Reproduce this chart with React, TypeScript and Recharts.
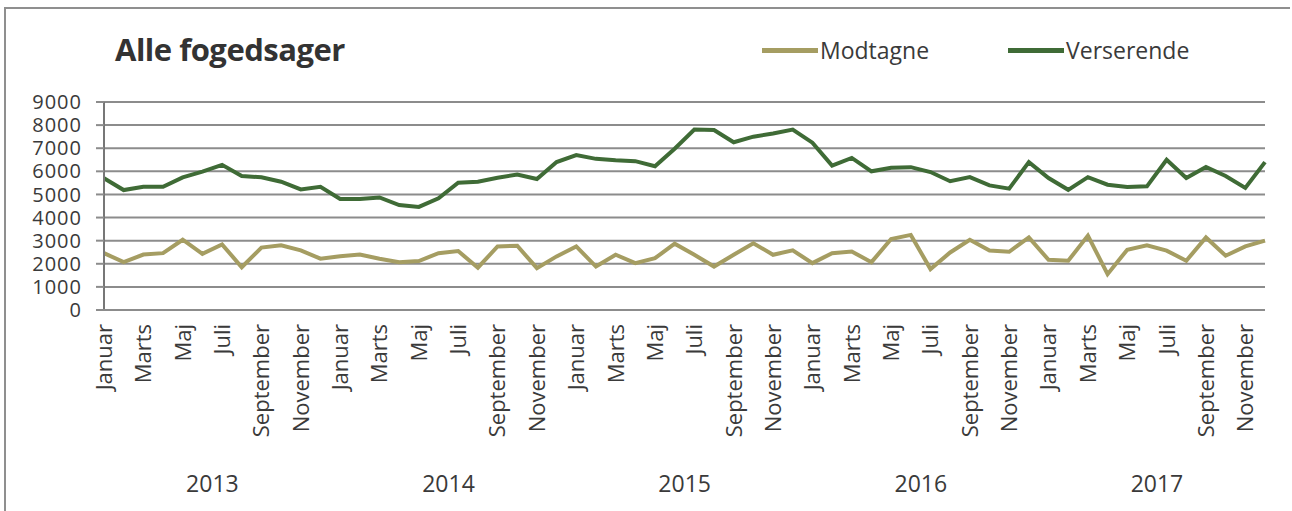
import { LineChart, Line, XAxis, YAxis, CartesianGrid } from 'recharts';

const MONTHS = [
  'Januar', 'Februar', 'Marts', 'April', 'Maj', 'Juni',
  'Juli', 'August', 'September', 'Oktober', 'November', 'December',
];
const YEARS = [2013, 2014, 2015, 2016, 2017];

// Jan 2013 .. Dec 2017
const MODTAGNE = [
  2460, 2070, 2400, 2460, 3040, 2430, 2840, 1850, 2700, 2800, 2580, 2220,
  2330, 2400, 2220, 2070, 2120, 2460, 2550, 1830, 2750, 2780, 1810, 2320,
  2750, 1880, 2390, 2030, 2240, 2870, 2390, 1880, 2390, 2890, 2390, 2580,
  2030, 2460, 2530, 2070, 3070, 3250, 1770, 2490, 3040, 2570, 2520, 3140,
  2170, 2130, 3220, 1550, 2610, 2800, 2570, 2130, 3140, 2350, 2750, 3000,
];
const VERSERENDE = [
  5700, 5190, 5330, 5330, 5740, 5990, 6280, 5800, 5740, 5550, 5220, 5330,
  4800, 4800, 4870, 4540, 4460, 4830, 5510, 5550, 5720, 5860, 5670, 6400,
  6700, 6540, 6480, 6440, 6220, 6980, 7810, 7790, 7260, 7500, 7640, 7810,
  7240, 6250, 6580, 6000, 6150, 6180, 5970, 5570, 5750, 5390, 5250, 6400,
  5710, 5200, 5750, 5420, 5320, 5350, 6500, 5710, 6190, 5800, 5280, 6400,
];
const Y_TICKS = [0, 1000, 2000, 3000, 4000, 5000, 6000, 7000, 8000, 9000];

const COLOR_MODTAGNE = '#a59d62';
const COLOR_VERSERENDE = '#3f6b36';
const TEXT = '#3a3a3a';

const WIDTH = 1292;
const HEIGHT = 511;
const MARGIN = { top: 102, right: 27, left: 0, bottom: 0 };
const Y_WIDTH = 104;
const BAND = (WIDTH - MARGIN.left - MARGIN.right - Y_WIDTH) / MODTAGNE.length;

const data = MODTAGNE.map((m, i) => ({
  idx: i,
  modtagne: m,
  verserende: VERSERENDE[i],
}));

function MonthTick(props: any) {
  const { x, y, payload } = props;
  const label = MONTHS[payload.value % 12];
  return (
    <text
      x={x}
      y={y + 6}
      dy="0.36em"
      textAnchor="end"
      transform={`rotate(-90, ${x}, ${y + 6})`}
      fontSize={22}
      fill={TEXT}
    >
      {label}
    </text>
  );
}

function YearTick(props: any) {
  const { x, y, payload } = props;
  if (payload.value % 12 !== 6) return null;
  const year = YEARS[Math.floor(payload.value / 12)];
  return (
    <text x={x - BAND / 2} y={y} dy={24} textAnchor="middle" fontSize={23} fill={TEXT}>
      {year}
    </text>
  );
}

const LEGEND = [
  { name: 'Modtagne', color: COLOR_MODTAGNE, left: 762 },
  { name: 'Verserende', color: COLOR_VERSERENDE, left: 1008 },
];

export default function App() {
  return (
    <div style={{ position: 'relative', width: WIDTH, height: HEIGHT, overflow: 'hidden', fontFamily: '"Open Sans", sans-serif', background: '#fff' }}>
      <style>{'body{margin:0}'}</style>
      <div
        style={{
          position: 'absolute', left: 4, top: 7, width: 1284, height: 520,
          borderTop: '2px solid #8f8f8f', borderLeft: '2px solid #8f8f8f',
        }}
      />
      <div
        style={{
          position: 'absolute', left: 115, top: 28, fontSize: 31, fontWeight: 700,
          color: '#333', letterSpacing: -0.5,
        }}
      >
        Alle fogedsager
      </div>
      {LEGEND.map((it) => (
        <div
          key={it.name}
          style={{ position: 'absolute', left: it.left, top: 34, display: 'flex', alignItems: 'center' }}
        >
          <span style={{ display: 'inline-block', width: 56, height: 5, background: it.color }} />
          <span style={{ fontSize: 23, color: TEXT, marginLeft: 2 }}>{it.name}</span>
        </div>
      ))}
      <div style={{ position: 'absolute', left: 0, top: 0 }}>
        <LineChart width={WIDTH} height={HEIGHT} data={data} margin={MARGIN}>
          <CartesianGrid vertical={false} stroke="#8c8c8c" strokeWidth={2} />
          <YAxis
            domain={[0, 9000]}
            ticks={Y_TICKS}
            interval={0}
            width={Y_WIDTH}
            tickSize={8}
            tickMargin={14}
            axisLine={{ stroke: '#777', strokeWidth: 2 }}
            tickLine={{ stroke: '#8c8c8c', strokeWidth: 2 }}
            tick={{ fill: TEXT, fontSize: 20, letterSpacing: 1 }}
          />
          <XAxis
            dataKey="idx"
            type="category"
            interval={1}
            height={150}
            axisLine={{ stroke: '#8c8c8c', strokeWidth: 2 }}
            tickLine={false}
            tick={<MonthTick />}
          />
          <XAxis
            xAxisId="year"
            dataKey="idx"
            type="category"
            interval={0}
            height={51}
            axisLine={false}
            tickLine={false}
            tick={<YearTick />}
          />
          <Line
            dataKey="modtagne"
            name="Modtagne"
            stroke={COLOR_MODTAGNE}
            strokeWidth={4}
            dot={false}
            isAnimationActive={false}
          />
          <Line
            dataKey="verserende"
            name="Verserende"
            stroke={COLOR_VERSERENDE}
            strokeWidth={4}
            dot={false}
            isAnimationActive={false}
          />
        </LineChart>
      </div>
    </div>
  );
}
